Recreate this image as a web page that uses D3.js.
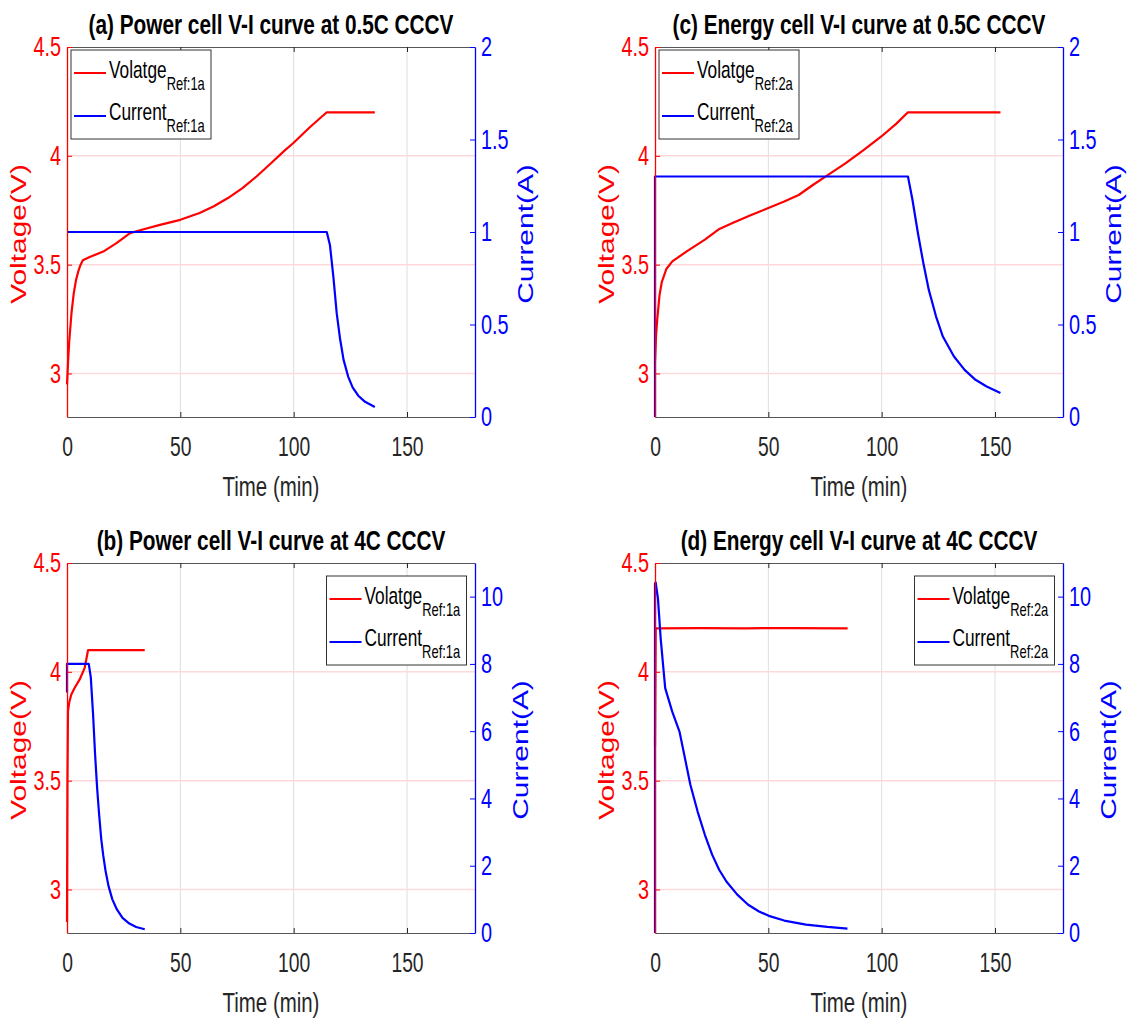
<!DOCTYPE html>
<html>
<head>
<meta charset="utf-8">
<script src="https://cdn.jsdelivr.net/npm/d3@7"></script>
<style>
  body { margin: 0; background: #fff; }
  svg { display: block; }
</style>
</head>
<body>
<svg id="fig" width="1128" height="1018"></svg>
<script>
// ---------- data ----------
const timeTicks = [0, 50, 100, 150];
const voltageTicks = [3, 3.5, 4, 4.5];
const currentTicksHalfC = [0, 0.5, 1, 1.5, 2];
const currentTicks4C = [0, 2, 4, 6, 8, 10];

const panelTitles = [
  "(a) Power cell V-I curve at 0.5C CCCV",
  "(b) Power cell V-I curve at 4C CCCV",
  "(c) Energy cell V-I curve at 0.5C CCCV",
  "(d) Energy cell V-I curve at 4C CCCV"
];
const refTags = ["Ref:1a", "Ref:1a", "Ref:2a", "Ref:2a"];

// [time (min), voltage (V)]
const voltagePowerHalfC = [
  [0, 2.95], [0.5, 3.06], [1, 3.15], [2, 3.28], [3, 3.37], [4, 3.43], [5, 3.47],
  [6, 3.50], [7, 3.52], [10, 3.535], [16, 3.56], [22, 3.60], [27.8, 3.645],
  [31.8, 3.657], [41, 3.683], [50, 3.706], [58.5, 3.737], [64.8, 3.768],
  [71, 3.806], [77.4, 3.852], [83.6, 3.905], [90, 3.966], [96.2, 4.026],
  [100, 4.06], [107, 4.13], [114.6, 4.20], [135.8, 4.20]
];
// [time (min), current (A)]
const currentPowerHalfC = [
  [0, 1.0], [114.6, 1.0], [116, 0.93], [117.5, 0.76], [119, 0.56], [120.5, 0.42],
  [122, 0.31], [124, 0.22], [126, 0.16], [128.5, 0.115], [131.5, 0.082], [135.8, 0.054]
];

const voltagePower4C = [
  [0, 2.85], [0.2, 3.5], [0.44, 3.82], [1, 3.86], [1.9, 3.896], [3.4, 3.927],
  [5.6, 3.965], [7.8, 4.018], [9.3, 4.10], [34.3, 4.10]
];
const currentPower4C = [
  [0, 7.15], [0, 8.0], [9.6, 8.0], [10.5, 7.6], [11.5, 6.5], [12.4, 5.3],
  [13.3, 4.3], [14.2, 3.5], [15.1, 2.8], [16, 2.3], [17, 1.85], [18.3, 1.4],
  [20, 1.0], [22, 0.7], [24.5, 0.45], [27.5, 0.28], [30.5, 0.18], [34.3, 0.11]
];

const voltageEnergyHalfC = [
  [0, 3.057], [0.5, 3.18], [1, 3.25], [2, 3.36], [3, 3.42], [5, 3.48],
  [7.65, 3.515], [14, 3.561], [22, 3.615], [28.4, 3.664], [34.7, 3.694],
  [42.7, 3.729], [50, 3.76], [57, 3.79], [63.4, 3.82], [69.8, 3.867],
  [76.2, 3.911], [84, 3.965], [92, 4.026], [100, 4.09], [106.5, 4.148],
  [111.6, 4.20], [152.4, 4.20]
];
const currentEnergyHalfC = [
  [0, 0], [0, 1.3], [111.6, 1.3], [113.6, 1.173], [116, 0.993], [118.4, 0.831],
  [120.8, 0.687], [124, 0.543], [127, 0.435], [131.9, 0.327], [136.6, 0.255],
  [141.4, 0.201], [146.3, 0.165], [152.4, 0.13]
];

const voltageEnergy4C = [
  [0, 3.66], [0.3, 4.20], [20, 4.201], [40, 4.20], [60, 4.201], [85, 4.20]
];
const currentEnergy4C = [
  [0, 0], [0, 10.4], [0.3, 10.42], [1.3, 9.95], [2.5, 8.76], [3.7, 7.87],
  [4.5, 7.28], [7.6, 6.58], [10.8, 5.99], [13.2, 5.2], [15.6, 4.41], [18.8, 3.61],
  [22, 2.92], [25.2, 2.33], [28.3, 1.88], [31.5, 1.53], [36.3, 1.14], [41.1, 0.84],
  [45.9, 0.64], [50.2, 0.51], [57, 0.37], [66.6, 0.25], [76.1, 0.18], [84.9, 0.13]
];

// ---------- layout & style ----------
const RED = "#ff0000", BLUE = "#0000ff", INK = "#262626";
const FONT = "'Liberation Sans', Arial, Helvetica, sans-serif";
const PW = 408, PH = 370;

const panels = [
  { title: panelTitles[0], tag: refTags[0], volt: voltagePowerHalfC, curr: currentPowerHalfC, cTicks: currentTicksHalfC, cMax: 2,  left: 67,  top: 47,  legend: "tl" },
  { title: panelTitles[1], tag: refTags[1], volt: voltagePower4C,    curr: currentPower4C,    cTicks: currentTicks4C,    cMax: 11, left: 67,  top: 563, legend: "tr" },
  { title: panelTitles[2], tag: refTags[2], volt: voltageEnergyHalfC, curr: currentEnergyHalfC, cTicks: currentTicksHalfC, cMax: 2,  left: 655, top: 47,  legend: "tl" },
  { title: panelTitles[3], tag: refTags[3], volt: voltageEnergy4C,   curr: currentEnergy4C,   cTicks: currentTicks4C,    cMax: 11, left: 655, top: 563, legend: "tr" }
];

const svg = d3.select("#fig");
svg.append("rect").attr("width", 1128).attr("height", 1018).attr("fill", "#fff");

// narrow the glyphs of tick labels horizontally
function squeeze(g, sx) {
  g.selectAll(".tick text").each(function () {
    const t = d3.select(this);
    const x = +t.attr("x") || 0;
    t.attr("x", x / sx).attr("transform", `scale(${sx},1)`);
  });
}

panels.forEach(p => {
  const g = svg.append("g").attr("transform", `translate(${p.left},${p.top})`);
  const x = d3.scaleLinear().domain([0, 180]).range([0, PW]);
  const yV = d3.scaleLinear().domain([2.8, 4.5]).range([PH, 0]);
  const yI = d3.scaleLinear().domain([0, p.cMax]).range([PH, 0]);

  // grid
  g.append("g").selectAll("line").data(timeTicks.filter(t => t > 0)).join("line")
    .attr("x1", d => x(d)).attr("x2", d => x(d)).attr("y1", 0).attr("y2", PH)
    .attr("stroke", "#dedede").attr("stroke-width", 1);
  g.append("g").selectAll("line").data(voltageTicks.filter(v => v < 4.5)).join("line")
    .attr("x1", 0).attr("x2", PW).attr("y1", d => yV(d)).attr("y2", d => yV(d))
    .attr("stroke", "#ffd9d9").attr("stroke-width", 1.5);

  // series
  const lineV = d3.line().x(d => x(d[0])).y(d => yV(d[1]));
  const lineI = d3.line().x(d => x(d[0])).y(d => yI(d[1]));
  g.append("path").attr("d", lineV(p.volt)).attr("fill", "none")
    .attr("stroke", RED).attr("stroke-width", 2.2).attr("stroke-linejoin", "round");
  g.append("path").attr("d", lineI(p.curr)).attr("fill", "none")
    .attr("stroke", BLUE).attr("stroke-width", 2.2).attr("stroke-linejoin", "round");

  // axes
  const gTop = g.append("g")
    .call(d3.axisTop(x).tickValues(timeTicks).tickSize(-5).tickSizeOuter(0).tickFormat(""));
  gTop.attr("color", INK);
  gTop.select(".domain").attr("stroke", "#555");

  const gB = g.append("g").attr("transform", `translate(0,${PH})`)
    .call(d3.axisBottom(x).tickValues(timeTicks).tickSize(-5).tickSizeOuter(0).tickPadding(19));
  gB.attr("color", INK).attr("font-size", 28).attr("font-family", FONT);
  gB.select(".domain").attr("stroke", "#555");
  squeeze(gB, 0.69);

  const gL = g.append("g")
    .call(d3.axisLeft(yV).tickValues(voltageTicks).tickSize(-5).tickSizeOuter(0).tickPadding(6).tickFormat(d3.format("~g")));
  gL.attr("color", RED).attr("font-size", 28).attr("font-family", FONT);
  gL.select(".domain").attr("stroke-width", 1.3);
  squeeze(gL, 0.71);

  const gR = g.append("g").attr("transform", `translate(${PW},0)`)
    .call(d3.axisRight(yI).tickValues(p.cTicks).tickSize(-5).tickSizeOuter(0).tickPadding(6).tickFormat(d3.format("~g")));
  gR.attr("color", BLUE).attr("font-size", 28).attr("font-family", FONT);
  gR.select(".domain").attr("stroke-width", 1.3);
  squeeze(gR, 0.71);

  // title
  g.append("text").attr("transform", `translate(${PW / 2},-13) scale(0.77,1)`)
    .attr("text-anchor", "middle").attr("font-family", FONT).attr("font-weight", "bold")
    .attr("font-size", 27).attr("fill", "#000").text(p.title);

  // axis titles
  g.append("text").attr("transform", `translate(${PW / 2},${PH + 79}) scale(0.73,1)`)
    .attr("text-anchor", "middle").attr("font-family", FONT).attr("font-size", 28)
    .attr("fill", INK).text("Time (min)");
  g.append("text").attr("transform", `translate(-41,${PH / 2 + 2}) rotate(-90) scale(1.33,1)`)
    .attr("text-anchor", "middle").attr("font-family", FONT).attr("font-size", 22.5)
    .attr("fill", RED).text("Voltage(V)");
  const rOff = p.cMax > 2 ? 53 : 58;
  g.append("text").attr("transform", `translate(${PW + rOff},${PH / 2 + 2}) rotate(-90) scale(1.33,1)`)
    .attr("text-anchor", "middle").attr("font-family", FONT).attr("font-size", 22.5)
    .attr("fill", BLUE).text("Current(A)");

  // legend
  const bw = 140, bh = 89;
  const bx = p.legend === "tl" ? 4 : PW - 8.5 - bw;
  const by = p.legend === "tl" ? 3 : 13;
  const lg = g.append("g").attr("transform", `translate(${bx},${by})`);
  lg.append("rect").attr("width", bw).attr("height", bh)
    .attr("fill", "#fff").attr("stroke", "#333").attr("stroke-width", 1);
  const entries = [
    { name: "Volatge", color: RED, ly: 23, ty: 27.6 },
    { name: "Current", color: BLUE, ly: 66, ty: 70 }
  ];
  entries.forEach(e => {
    lg.append("line").attr("x1", 3).attr("x2", 35).attr("y1", e.ly).attr("y2", e.ly)
      .attr("stroke", e.color).attr("stroke-width", 2);
    const t = lg.append("text").attr("transform", `translate(38,${e.ty}) scale(0.72,1)`)
      .attr("font-family", FONT).attr("fill", "#000");
    t.append("tspan").attr("font-size", 24).text(e.name);
    t.append("tspan").attr("font-size", 18).attr("dy", 12).text(p.tag);
  });
});
</script>
</body>
</html>
